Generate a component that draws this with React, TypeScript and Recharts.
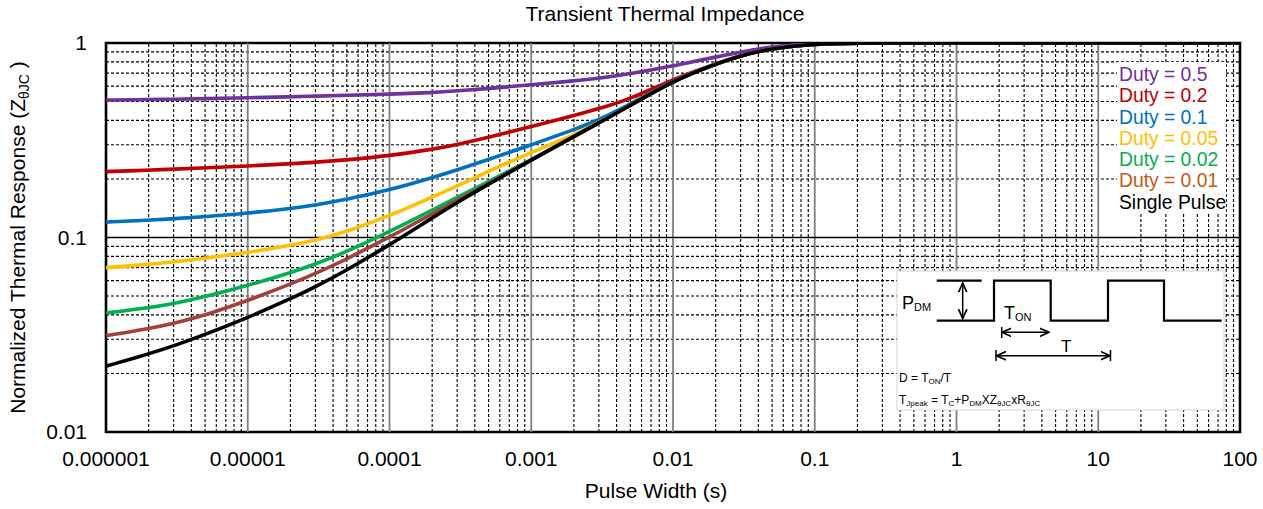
import React from 'react';
import { LineChart, Line, XAxis, YAxis, ReferenceLine, ReferenceArea } from 'recharts';

const FONT = '"Liberation Sans", Arial, sans-serif';

// Pulse width (s)
const pulseWidths = [1e-6, 2e-6, 3e-6, 5e-6, 1e-5, 2e-5, 3e-5, 5e-5, 1e-4, 2e-4, 3e-4, 5e-4, 1e-3, 2e-3, 3e-3, 5e-3, 1e-2, 2e-2, 3e-2, 5e-2, 0.1, 0.2, 0.5, 1, 10, 100];

const duty05 = [0.509, 0.512, 0.514, 0.517, 0.523, 0.529, 0.533, 0.538, 0.545, 0.556, 0.567, 0.583, 0.61, 0.638, 0.658, 0.695, 0.762, 0.848, 0.898, 0.962, 0.995, 1, 1, 1, 1, 1];
const duty02 = [0.218, 0.222, 0.2245, 0.228, 0.2331, 0.2393, 0.2437, 0.2506, 0.2631, 0.2839, 0.3005, 0.3278, 0.3713, 0.4236, 0.4594, 0.514, 0.653, 0.783, 0.862, 0.94, 0.99, 1, 1, 1, 1, 1];
const duty01 = [0.12, 0.1228, 0.1248, 0.128, 0.1334, 0.141, 0.1469, 0.157, 0.1754, 0.2029, 0.2227, 0.2518, 0.2994, 0.3585, 0.4016, 0.485, 0.642, 0.781, 0.862, 0.94, 0.99, 1, 1, 1, 1, 1];
const duty005 = [0.07, 0.0727, 0.0748, 0.0781, 0.0837, 0.091, 0.0967, 0.1071, 0.1291, 0.1612, 0.1843, 0.2193, 0.2737, 0.337, 0.3885, 0.4777, 0.639, 0.781, 0.862, 0.94, 0.99, 1, 1, 1, 1, 1];
const duty002 = [0.0409, 0.0435, 0.0457, 0.0496, 0.0566, 0.0659, 0.0729, 0.0846, 0.1071, 0.1384, 0.1608, 0.1943, 0.2503, 0.3303, 0.3885, 0.4777, 0.639, 0.781, 0.862, 0.94, 0.99, 1, 1, 1, 1, 1];
const duty001 = [0.0313, 0.034, 0.0362, 0.0398, 0.0474, 0.0575, 0.0652, 0.0776, 0.1003, 0.1323, 0.1556, 0.1889, 0.2503, 0.3303, 0.3885, 0.4777, 0.639, 0.781, 0.862, 0.94, 0.99, 1, 1, 1, 1, 1];
const singlePulse = [0.0218, 0.0252, 0.0277, 0.0317, 0.0387, 0.0484, 0.0557, 0.068, 0.0916, 0.126, 0.1512, 0.1884, 0.2503, 0.3303, 0.3885, 0.4777, 0.639, 0.781, 0.862, 0.94, 0.99, 1, 1, 1, 1, 1];

const seriesKeys = ['d05', 'd02', 'd01', 'd005', 'd002', 'd001', 'single'];
const seriesNames = ['Duty = 0.5', 'Duty = 0.2', 'Duty = 0.1', 'Duty = 0.05', 'Duty = 0.02', 'Duty = 0.01', 'Single Pulse'];
const lineColors = ['#7030A0', '#C00000', '#0070C0', '#FFC000', '#00B050', '#A0413C', '#000000'];
const legendColors = ['#7030A0', '#C00000', '#0070C0', '#FFC000', '#00B050', '#C55A11', '#000000'];

const xTicks = [1e-6, 1e-5, 1e-4, 1e-3, 1e-2, 1e-1, 1, 10, 100];
const xTickLabels = ['0.000001', '0.00001', '0.0001', '0.001', '0.01', '0.1', '1', '10', '100'];
const yTicks = [0.01, 0.1, 1];
const yTickLabels = ['0.01', '0.1', '1'];

const seriesValues = [duty05, duty02, duty01, duty005, duty002, duty001, singlePulse];
const data = pulseWidths.map((x, i) => {
  const row: Record<string, number> = { x };
  seriesKeys.forEach((k, j) => {
    row[k] = seriesValues[j][i];
  });
  return row;
});

// grid helper values
const minorX: number[] = [];
for (let d = -6; d <= 1; d++) for (let m = 2; m <= 9; m++) minorX.push(m * Math.pow(10, d));
const minorY: number[] = [];
for (let d = -2; d <= -1; d++) for (let m = 2; m <= 9; m++) minorY.push(m * Math.pow(10, d));
const majorX = xTicks.slice(1, -1);

const labelFor = (ticks: number[], labels: string[]) => (v: number) => {
  const i = ticks.findIndex((t) => Math.abs(Math.log10(t) - Math.log10(v)) < 1e-6);
  return i >= 0 ? labels[i] : '';
};

export default function App() {
  return (
    <div style={{ position: 'absolute', left: 0, top: 0, width: 1263, height: 509, background: '#fff', fontFamily: FONT }}>
      <LineChart width={1263} height={509} data={data} margin={{ top: 43, right: 23, bottom: 37, left: 46 }}>
        <XAxis
          dataKey="x"
          type="number"
          scale="log"
          domain={[1e-6, 100]}
          allowDataOverflow
          ticks={xTicks}
          interval={0}
          tickFormatter={labelFor(xTicks, xTickLabels)}
          tickLine={false}
          axisLine={false}
          tickSize={0}
          tickMargin={19}
          height={40}
          tick={{ fontSize: 21, fill: '#000', fontFamily: FONT }}
        />
        <YAxis
          type="number"
          scale="log"
          domain={[0.01, 1]}
          allowDataOverflow
          ticks={yTicks}
          interval={0}
          tickFormatter={labelFor(yTicks, yTickLabels)}
          tickLine={false}
          axisLine={false}
          tickSize={0}
          tickMargin={19}
          width={60}
          tick={{ fontSize: 21, fill: '#000', fontFamily: FONT }}
        />
        {minorX.map((v) => (
          <ReferenceLine key={'mx' + v} x={v} stroke="#000" strokeWidth={1.1} strokeDasharray="3 2" ifOverflow="hidden" />
        ))}
        {minorY.map((v) => (
          <ReferenceLine key={'my' + v} y={v} stroke="#000" strokeWidth={1.1} strokeDasharray="3 2" ifOverflow="hidden" />
        ))}
        {majorX.map((v) => (
          <ReferenceLine key={'MX' + v} x={v} stroke="#7f7f7f" strokeWidth={1.8} ifOverflow="hidden" />
        ))}
        <ReferenceLine y={0.1} stroke="#000" strokeWidth={1.4} ifOverflow="hidden" />
        {seriesKeys.map((k, i) => (
          <Line
            key={k}
            dataKey={k}
            name={seriesNames[i]}
            type="basis"
            stroke={lineColors[i]}
            strokeWidth={3.6}
            dot={false}
            activeDot={false}
            isAnimationActive={false}
          />
        ))}
        <ReferenceArea x1={1e-6} x2={100} y1={0.01} y2={1} fill="none" fillOpacity={0} stroke="#000" strokeWidth={2.6} ifOverflow="visible" />
      </LineChart>
      <svg width={1263} height={509} style={{ position: 'absolute', left: 0, top: 0, pointerEvents: 'none' }} fontFamily={FONT}>
        <defs>
          <marker id="ah" viewBox="0 0 10 10" refX="9" refY="5" markerWidth="7" markerHeight="7" orient="auto-start-reverse">
            <path d="M0,1 L9,5 L0,9" fill="none" stroke="#000" strokeWidth="1.6" />
          </marker>
        </defs>
        <text x={665} y={21} textAnchor="middle" fontSize={21}>Transient Thermal Impedance</text>
        <text x={656} y={498} textAnchor="middle" fontSize={21}>Pulse Width (s)</text>
        <text x={25} y={237.5} textAnchor="middle" fontSize={21} transform="rotate(-90,25,237.5)">
          Normalized Thermal Response (Z<tspan fontSize={14} dy={4}>θJC</tspan><tspan dy={-4}> )</tspan>
        </text>
        {/* legend */}
        <rect x={1117} y={62} width={109} height={152} fill="#fff" />
        {seriesNames.map((n, i) => (
          <text key={n} x={1119} y={81 + i * 21.25} fontSize={19.3} fill={legendColors[i]}>{n}</text>
        ))}
        {/* inset */}
        <rect x={897} y={271} width={327} height={139} fill="#fff" stroke="#d4d4d4" strokeWidth={1} />
        <g stroke="#000" strokeWidth={2.2} fill="none">
          <path d="M936.7 280.7 H981.7" />
          <path d="M936.7 320.7 H994 V280.7 H1050.7 V320.7 H1108 V280.7 H1164 V320.7 H1221.7" />
        </g>
        <g stroke="#000" strokeWidth={1.5} fill="none">
          <line x1={962.7} y1={283} x2={962.7} y2={318.5} markerStart="url(#ah)" markerEnd="url(#ah)" />
          <line x1={1002} y1={332.3} x2={1049} y2={332.3} markerStart="url(#ah)" markerEnd="url(#ah)" />
          <line x1={1001.7} y1={327} x2={1001.7} y2={338} />
          <line x1={996.5} y1={355.7} x2={1110} y2={355.7} markerStart="url(#ah)" markerEnd="url(#ah)" />
          <line x1={996} y1={350} x2={996} y2={361} />
          <line x1={1110.5} y1={350} x2={1110.5} y2={361} />
        </g>
        <text x={902} y={308.5} fontSize={18}>P<tspan fontSize={11} dy={2}>DM</tspan></text>
        <text x={1004} y={318.5} fontSize={18}>T<tspan fontSize={11} dy={2}>ON</tspan></text>
        <text x={1061} y={352} fontSize={17}>T</text>
        <text x={899} y={382} fontSize={12}>D = T<tspan fontSize={8} dy={2}>ON</tspan><tspan dy={-2}>/T</tspan></text>
        <text x={899} y={404} fontSize={12}>
          T<tspan fontSize={8} dy={2}>Jpeak</tspan><tspan dy={-2}> = T</tspan><tspan fontSize={8} dy={2}>C</tspan><tspan dy={-2}>+P</tspan><tspan fontSize={8} dy={2}>DM</tspan><tspan dy={-2}>XZ</tspan><tspan fontSize={8} dy={2}>θJC</tspan><tspan dy={-2}>xR</tspan><tspan fontSize={8} dy={2}>θJC</tspan>
        </text>
      </svg>
    </div>
  );
}
